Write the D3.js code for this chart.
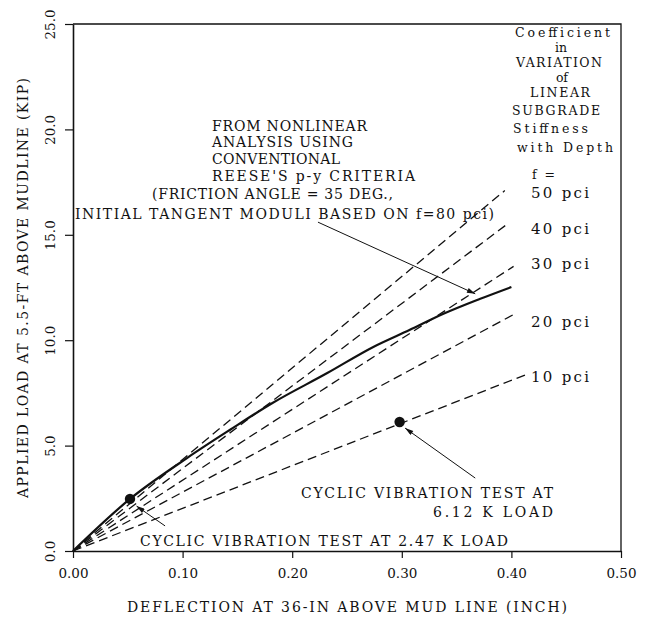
<!DOCTYPE html>
<html>
<head>
<meta charset="utf-8">
<script src="https://cdn.jsdelivr.net/npm/d3@7"></script>
<style>
  html, body { margin: 0; padding: 0; background: #fff; }
  svg text { font-family: "DejaVu Serif", "Liberation Serif", serif; fill: #111; }
</style>
</head>
<body>
<svg id="chart" width="655" height="624"></svg>
<script>
// ---- Axis ticks ----
const xTicks = [0, 0.1, 0.2, 0.3, 0.4, 0.5];
const yTicks = [0, 5, 10, 15, 20, 25];

// ---- Nonlinear analysis, conventional Reese p-y criteria (deflection in, load kip) ----
const reeseDeflection = [0, 0.052, 0.104, 0.143, 0.182, 0.232, 0.274, 0.307, 0.338, 0.371, 0.400];
const reeseLoad       = [0, 2.47, 4.41, 5.74, 7.02, 8.44, 9.68, 10.48, 11.25, 11.95, 12.52];

// ---- Linear subgrade stiffness runs: each starts at the origin and ends here ----
const stiffnessLabels     = ["10 pci", "20 pci", "30 pci", "40 pci", "50 pci"];
const linearEndDeflection = [0.415, 0.405, 0.402, 0.396, 0.394];
const linearEndLoad       = [8.40, 11.30, 13.50, 15.50, 17.10];

// ---- Cyclic vibration test points ----
const testDeflection = [0.052, 0.298];
const testLoad       = [2.47, 6.12];

const svg = d3.select("#chart");
const ink = "#111";

const x = d3.scaleLinear().domain([0, 0.5]).range([73, 621]);
const y = d3.scaleLinear().domain([0, 25]).range([551, 24]);

// arrowhead used by the leader lines
svg.append("defs").append("marker")
  .attr("id", "arrow")
  .attr("viewBox", "0 0 10 6")
  .attr("refX", 10).attr("refY", 3)
  .attr("markerWidth", 10).attr("markerHeight", 5)
  .attr("markerUnits", "userSpaceOnUse")
  .attr("orient", "auto")
  .append("path").attr("d", "M0,0L10,3L0,6Z").attr("fill", ink);

// top and right edges of the frame
svg.append("path")
  .attr("d", `M${x(0)},${y(25)}H${x(0.5)}V${y(0)}`)
  .attr("fill", "none").attr("stroke", ink).attr("stroke-width", 1.3);

// x axis
const gx = svg.append("g")
  .attr("transform", `translate(0,${y(0)})`)
  .call(d3.axisBottom(x).tickValues(xTicks).tickFormat(d3.format(".2f"))
        .tickSize(7).tickSizeOuter(0).tickPadding(10))
  .attr("font-family", "DejaVu Serif").attr("font-size", 13.5);
gx.select(".domain").attr("stroke", ink).attr("stroke-width", 1.6);
gx.selectAll(".tick line").attr("stroke", ink).attr("stroke-width", 1.2);
gx.selectAll(".tick text").attr("fill", ink);

// y axis with labels turned to read upward
const gy = svg.append("g")
  .attr("transform", `translate(${x(0)},0)`)
  .call(d3.axisLeft(y).tickValues(yTicks).tickFormat(d3.format(".1f"))
        .tickSize(8).tickSizeOuter(0))
  .attr("font-family", "DejaVu Serif").attr("font-size", 13.5);
gy.select(".domain").attr("stroke", ink).attr("stroke-width", 1.6);
gy.selectAll(".tick line").attr("stroke", ink).attr("stroke-width", 1.2);
gy.selectAll(".tick text")
  .attr("x", null).attr("dy", "0.35em")
  .attr("text-anchor", "middle")
  .attr("transform", "translate(-23,0) rotate(-90)")
  .attr("fill", ink);

// axis titles
svg.append("text")
  .attr("x", 127).attr("y", 612)
  .attr("font-size", 14)
  .attr("textLength", 440).attr("lengthAdjust", "spacing")
  .text("DEFLECTION AT 36-IN ABOVE MUD LINE (INCH)");

svg.append("text")
  .attr("transform", "translate(23,498) rotate(-90)")
  .attr("dy", "0.35em")
  .attr("font-size", 14)
  .attr("textLength", 420).attr("lengthAdjust", "spacing")
  .text("APPLIED LOAD AT 5.5-FT ABOVE MUDLINE (KIP)");

// linear stiffness runs (dashed)
const line = d3.line().x(d => x(d[0])).y(d => y(d[1]));
svg.append("g").selectAll("path")
  .data(stiffnessLabels.map((lab, i) => [[0, 0], [linearEndDeflection[i], linearEndLoad[i]]]))
  .join("path")
  .attr("d", line)
  .attr("fill", "none").attr("stroke", ink)
  .attr("stroke-width", 1.3).attr("stroke-dasharray", "9,5");

// nonlinear Reese p-y response (solid)
const curve = d3.line().x(d => x(d[0])).y(d => y(d[1])).curve(d3.curveMonotoneX);
svg.append("path")
  .datum(reeseDeflection.map((d, i) => [d, reeseLoad[i]]))
  .attr("d", curve)
  .attr("fill", "none").attr("stroke", ink).attr("stroke-width", 2.2);

// test points
svg.append("g").selectAll("circle")
  .data(testDeflection.map((d, i) => [d, testLoad[i]]))
  .join("circle")
  .attr("cx", d => x(d[0])).attr("cy", d => y(d[1])).attr("r", 5.2)
  .attr("fill", ink);

// stiffness labels at the right ends of the dashed runs
const labelY = [377, 322, 264, 229, 193];
svg.append("g").selectAll("text")
  .data(stiffnessLabels)
  .join("text")
  .attr("x", 531).attr("y", (d, i) => labelY[i]).attr("dy", "0.35em")
  .attr("font-size", 15)
  .attr("textLength", 58).attr("lengthAdjust", "spacing")
  .text(d => d);

// key heading: text, left x, centre y, width
const heading = [
  ["Coefficient", 515, 33, 95], ["in", 555, 48, 12], ["VARIATION", 516, 63, 86],
  ["of", 556, 78, 12], ["LINEAR", 530, 93, 60], ["SUBGRADE", 512, 111, 88],
  ["Stiffness", 513, 129, 75], ["with Depth", 517, 148, 96], ["f  =", 532, 175, 23]
];
svg.append("g").selectAll("text")
  .data(heading)
  .join("text")
  .attr("x", d => d[1]).attr("y", d => d[2]).attr("dy", "0.35em")
  .attr("font-size", 12.5)
  .attr("textLength", d => d[3]).attr("lengthAdjust", "spacing")
  .text(d => d[0]);

// annotation blocks: text, left x, centre y, width
const notes = [
  ["FROM NONLINEAR", 212, 126, 155],
  ["ANALYSIS USING", 212, 142, 141],
  ["CONVENTIONAL", 212, 159, 128],
  ["REESE'S p-y CRITERIA", 212, 176, 203],
  ["(FRICTION ANGLE = 35 DEG.,", 152, 194, 241],
  ["INITIAL TANGENT MODULI BASED ON f=80 pci)", 75, 214, 419],
  ["CYCLIC VIBRATION TEST AT", 301, 493, 252],
  ["6.12 K LOAD", 433, 512, 120],
  ["CYCLIC VIBRATION TEST AT 2.47 K LOAD", 140, 541, 368]
];
svg.append("g").selectAll("text")
  .data(notes)
  .join("text")
  .attr("x", d => d[1]).attr("y", d => d[2]).attr("dy", "0.35em")
  .attr("font-size", 14)
  .attr("textLength", d => d[3]).attr("lengthAdjust", "spacing")
  .text(d => d[0]);

// leader lines, in data units: [from, to]
const leaders = [
  [[0.2235, 15.60], [0.367, 12.20]],
  [[0.367, 3.46], [0.303, 5.83]],
  [[0.084, 1.19], [0.058, 2.13]]
];
svg.append("g").selectAll("path")
  .data(leaders)
  .join("path")
  .attr("d", line)
  .attr("fill", "none").attr("stroke", ink).attr("stroke-width", 1)
  .attr("marker-end", "url(#arrow)");
</script>
</body>
</html>
